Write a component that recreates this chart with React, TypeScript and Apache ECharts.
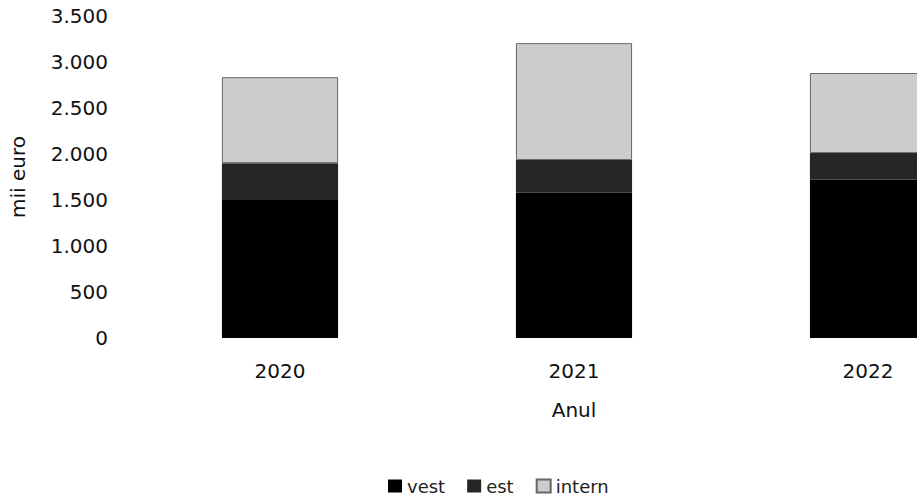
import React, { useEffect, useRef } from "react";
import * as echarts from "echarts";

const years = ["2020", "2021", "2022"];
const vest = [1500, 1580, 1720];
const est = [400, 355, 290];
const intern = [935, 1270, 870];
const seriesNames = ["vest", "est", "intern"];
const yAxisName = "mii euro";
const xAxisName = "Anul";

const FONT = "DejaVu Sans";

function fmt(v: number): string {
  return String(v).replace(/\B(?=(\d{3})+(?!\d))/g, ".");
}

export default function App() {
  const ref = useRef<HTMLDivElement>(null);
  useEffect(() => {
    if (!ref.current) return;
    const chart = echarts.init(ref.current, undefined, { renderer: "svg" });
    chart.setOption({
      animation: false,
      backgroundColor: "#ffffff",
      textStyle: { fontFamily: FONT },
      grid: { left: 133, width: 882, top: 16, bottom: 160 },
      legend: {
        left: 383,
        top: 472,
        itemWidth: 14,
        itemHeight: 13,
        itemGap: 22,
        icon: "rect",
        textStyle: { fontFamily: FONT, fontSize: 18, color: "#222" },
        data: seriesNames,
      },
      xAxis: {
        type: "category",
        data: years,
        axisLine: { show: false },
        axisTick: { show: false },
        axisLabel: { fontFamily: FONT, fontSize: 20, color: "#111", margin: 23 },
        name: xAxisName,
        nameLocation: "middle",
        nameGap: 62,
        nameTextStyle: { fontFamily: FONT, fontSize: 20, color: "#111" },
      },
      yAxis: {
        type: "value",
        min: 0,
        max: 3500,
        interval: 500,
        axisLine: { show: false },
        axisTick: { show: false },
        splitLine: { show: false },
        axisLabel: {
          fontFamily: FONT,
          fontSize: 20,
          color: "#111",
          margin: 25,
          padding: [4, 0, 0, 0],
          formatter: (v: number) => fmt(v),
        },
        name: yAxisName,
        nameLocation: "middle",
        nameGap: 105,
        nameTextStyle: { fontFamily: FONT, fontSize: 20, color: "#111" },
      },
      series: [
        {
          name: seriesNames[0],
          type: "bar",
          stack: "total",
          barWidth: "39.5%",
          data: vest,
          itemStyle: { color: "#000000" },
        },
        {
          name: seriesNames[1],
          type: "bar",
          stack: "total",
          data: est,
          itemStyle: { color: "#262626" },
        },
        {
          name: seriesNames[2],
          type: "bar",
          stack: "total",
          data: intern,
          itemStyle: { color: "#cdcdcd", borderColor: "#666", borderWidth: 1 },
        },
      ],
    });
    return () => chart.dispose();
  }, []);
  return (
    <div
      style={{
        position: "fixed",
        left: 0,
        top: 0,
        width: 917,
        height: 498,
        overflow: "hidden",
        background: "#fff",
      }}
    >
      <div ref={ref} style={{ width: 1100, height: 498 }} />
    </div>
  );
}
